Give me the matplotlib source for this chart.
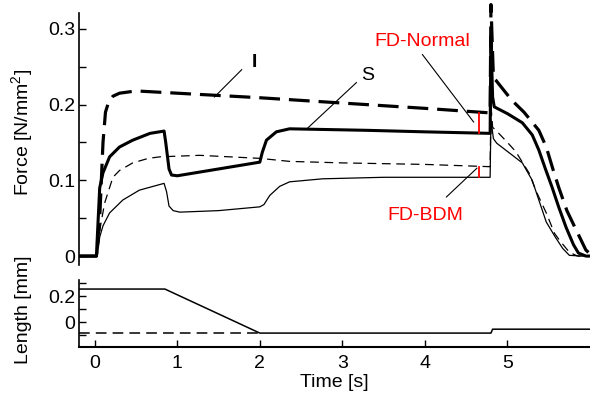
import matplotlib
matplotlib.use("Agg")
import matplotlib.pyplot as plt
from matplotlib.ticker import FixedLocator, FuncFormatter

plt.rcParams['font.family'] = ['Liberation Sans', 'DejaVu Sans']
plt.rcParams['mathtext.fontset'] = 'custom'
plt.rcParams['mathtext.rm'] = 'Liberation Sans'

# force traces (time [s], force [N/mm^2])
t_I = [-0.19, 0.02, 0.06, 0.1, 0.13, 0.17, 0.22, 0.3, 0.5, 1.0, 2.0, 3.0, 4.0, 4.79, 4.8,
       4.83, 4.86, 5.05, 5.2, 5.38, 5.47, 5.55, 5.62, 5.72, 5.83, 5.95, 6.0]
f_I = [0, 0, 0.05, 0.15, 0.19, 0.204, 0.211, 0.215, 0.218, 0.215, 0.209, 0.202, 0.195, 0.189, 0.332,
       0.235, 0.232, 0.206, 0.19, 0.166, 0.144, 0.115, 0.091, 0.06, 0.035, 0.008, 0.003]

t_S = [-0.19, 0.02, 0.06, 0.1, 0.18, 0.3, 0.46, 0.67, 0.84, 0.86, 0.9, 0.93, 1.0, 1.5, 2.0,
       2.03, 2.08, 2.2, 2.36, 3.3, 4.0, 4.79, 4.8, 4.82, 4.84, 5.0, 5.18, 5.3, 5.38, 5.46,
       5.54, 5.62, 5.71, 5.8, 5.86, 5.95, 6.0]
f_S = [0, 0, 0.09, 0.11, 0.131, 0.144, 0.153, 0.162, 0.165, 0.15, 0.115, 0.107, 0.106, 0.115,
       0.124, 0.137, 0.153, 0.164, 0.168, 0.166, 0.164, 0.162, 0.29, 0.21, 0.197, 0.188, 0.176,
       0.16, 0.14, 0.115, 0.091, 0.065, 0.038, 0.015, 0.004, 0.0, 0.0]

t_N = [-0.19, 0.03, 0.07, 0.12, 0.22, 0.3, 0.46, 0.65, 0.79, 1.27, 2.0, 2.36, 3.0, 4.0, 4.79,
       4.8, 4.82, 4.86, 5.0, 5.1, 5.26, 5.35, 5.47, 5.57, 5.63, 5.75, 5.85, 6.0]
f_N = [0, 0, 0.04, 0.07, 0.104, 0.113, 0.123, 0.129, 0.131, 0.133, 0.129, 0.125, 0.123, 0.121,
       0.118, 0.2, 0.17, 0.166, 0.15, 0.138, 0.11, 0.085, 0.057, 0.03, 0.021, 0.005, 0.0, 0.0]

t_B = [-0.19, 0.03, 0.06, 0.1, 0.18, 0.34, 0.54, 0.84, 0.87, 0.9, 0.95, 1.03, 1.5, 2.0, 2.05,
       2.12, 2.24, 2.36, 2.76, 3.5, 4.79, 4.8, 4.83, 4.87, 5.18, 5.3, 5.38, 5.47, 5.58, 5.67,
       5.75, 5.9, 6.0]
f_B = [0, 0, 0.025, 0.04, 0.057, 0.074, 0.087, 0.096, 0.085, 0.066, 0.06, 0.058, 0.06, 0.065,
       0.068, 0.08, 0.092, 0.098, 0.102, 0.104, 0.104, 0.18, 0.155, 0.149, 0.123, 0.1, 0.074,
       0.045, 0.025, 0.01, 0.001, 0, 0]

# length traces (time [s], length [mm])
t_len = [-0.19, 0.85, 2.0, 4.8, 4.82, 6.0]
l_len = [0.254, 0.254, -0.085, -0.085, -0.055, -0.055]
t_len0 = [-0.19, 2.0]
l_len0 = [-0.085, -0.085]

fs = 14

fig = plt.figure(figsize=(5.9, 4.03), dpi=100)
ax = fig.add_axes([0.134, 0.342, 0.866, 0.626])
ax2 = fig.add_axes([0.134, 0.139, 0.866, 0.166])

ax.plot(t_I, f_I, color='k', lw=2.3, ls=(0, (6.5, 2.8)), clip_on=False)
ax.plot(t_S, f_S, color='k', lw=2.2)
ax.plot(t_N, f_N, color='k', lw=0.9, ls=(0, (7, 4.5)))
ax.plot(t_B, f_B, color='k', lw=0.9)

# red markers for force deficit
ax.plot([4.66, 4.66], [0.189, 0.162], color='red', lw=1.3)
ax.plot([4.66, 4.66], [0.118, 0.104], color='red', lw=1.3)

ax.plot([1.78, 1.45], [0.246, 0.210], color='k', lw=0.8)
ax.text(1.93, 0.255, 'I', fontsize=fs, fontweight='bold', ha='center', va='center')
ax.plot([3.17, 2.58], [0.229, 0.169], color='k', lw=0.8)
ax.text(3.30, 0.239, 'S', fontsize=fs, ha='center', va='center')
ax.plot([3.97, 4.59], [0.266, 0.177], color='k', lw=0.8)
ax.text(3.97, 0.283, 'FD-Normal', fontsize=fs, color='red', ha='center', va='center')
ax.plot([4.26, 4.63], [0.078, 0.116], color='k', lw=0.8)
ax.text(4.01, 0.054, 'FD-BDM', fontsize=fs, color='red', ha='center', va='center')

ax.set_xlim(-0.19, 6.0)
ax.set_ylim(-0.012, 0.321)
for s in ['top', 'right', 'bottom']:
    ax.spines[s].set_visible(False)
ax.spines['left'].set_linewidth(1.2)
ax.set_xticks([])
ax.yaxis.set_major_locator(FixedLocator([0, 0.1, 0.2, 0.3]))
ax.yaxis.set_minor_locator(FixedLocator([0.05, 0.15, 0.25]))
ax.yaxis.set_major_formatter(FuncFormatter(lambda v, p: '0' if v == 0 else f'{v:g}'))
ax.tick_params(axis='y', which='both', direction='in', length=5, width=1, labelsize=fs, pad=3)

ax2.plot(t_len0, l_len0, color='k', lw=1.1, ls=(0, (7, 4)))
ax2.plot(t_len, l_len, color='k', lw=1.1)
ax2.set_xlim(-0.19, 6.0)
ax2.set_ylim(-0.192, 0.323)
for s in ['top', 'right']:
    ax2.spines[s].set_visible(False)
ax2.spines['left'].set_linewidth(1.2)
ax2.spines['bottom'].set_linewidth(1.5)
ax2.set_xticks([0, 1, 2, 3, 4, 5])
ax2.yaxis.set_major_locator(FixedLocator([-0.1, 0, 0.1, 0.2, 0.3]))
ax2.yaxis.set_major_formatter(FuncFormatter(lambda v, p: {0: '0', 0.2: '0.2'}.get(round(v, 2), '')))
ax2.tick_params(axis='y', direction='in', length=5, width=1, labelsize=fs, pad=3)
ax2.tick_params(axis='x', direction='in', length=5, width=1, labelsize=fs, pad=6)
ax2.set_xlabel('Time [s]', fontsize=fs, labelpad=1)

fig.text(0.039, 1 - 132 / 403, 'Force [N/mm$^2$]', rotation=90, fontsize=fs, ha='center', va='center')
fig.text(0.039, 1 - 310 / 403, 'Length [mm]', rotation=90, fontsize=fs, ha='center', va='center')

fig.savefig('out.png', dpi=100)
